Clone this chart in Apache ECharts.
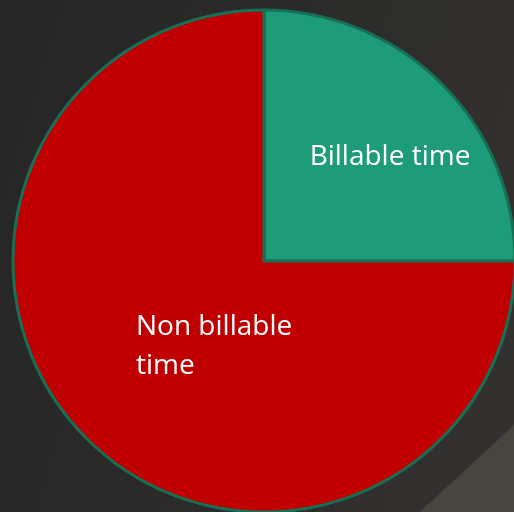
<!DOCTYPE html>
<html>
<head>
<meta charset="utf-8">
<script src="https://cdn.jsdelivr.net/npm/echarts@6/dist/echarts.min.js"></script>
<style>
  html, body { margin: 0; padding: 0; background: #2a2a2a; }
  #main { width: 514px; height: 512px; }
</style>
</head>
<body>
<div id="main"></div>
<script>
// share of time, percent
var categories = ['Billable time', 'Non billable\ntime'];
var shares = [25, 75];
var colors = ['#1e9c79', '#c00000'];

var chart = echarts.init(document.getElementById('main'));

var pieData = categories.map(function (name, i) {
    return { name: name, value: shares[i], itemStyle: { color: colors[i] } };
});

// label positions (centre of each text block)
var labelSpots = [
    { x: 390, y: 157, align: 'center' },
    { x: 136, y: 347, align: 'left' }
];

chart.setOption({
    backgroundColor: '#2a2a2a',
    graphic: [
        {
            type: 'rect', z: -10, silent: true,
            shape: { x: 0, y: 0, width: 514, height: 512 },
            style: {
                fill: new echarts.graphic.LinearGradient(0, 0, 1, 0.3, [
                    { offset: 0, color: '#262626' },
                    { offset: 0.6, color: '#2b2b2a' },
                    { offset: 1, color: '#33312f' }
                ])
            }
        },
        {
            type: 'polygon', z: -9, silent: true,
            shape: { points: [[420, 512], [514, 425], [514, 512]] },
            style: { fill: '#48453f' }
        }
    ],
    series: [{
        type: 'pie',
        center: [264, 261],
        radius: 251,
        startAngle: 90,
        clockwise: true,
        silent: true,
        animation: false,
        data: pieData,
        itemStyle: { borderColor: '#167055', borderWidth: 3 },
        label: {
            show: true,
            position: 'inside',
            formatter: '{b}',
            color: '#ffffff',
            fontFamily: 'Open Sans',
            fontSize: 28,
            lineHeight: 39,
            align: 'left'
        },
        labelLine: { show: false },
        labelLayout: function (params) {
            var s = labelSpots[params.dataIndex];
            return { x: s.x, y: s.y, align: s.align, verticalAlign: 'middle' };
        }
    }]
});
</script>
</body>
</html>
